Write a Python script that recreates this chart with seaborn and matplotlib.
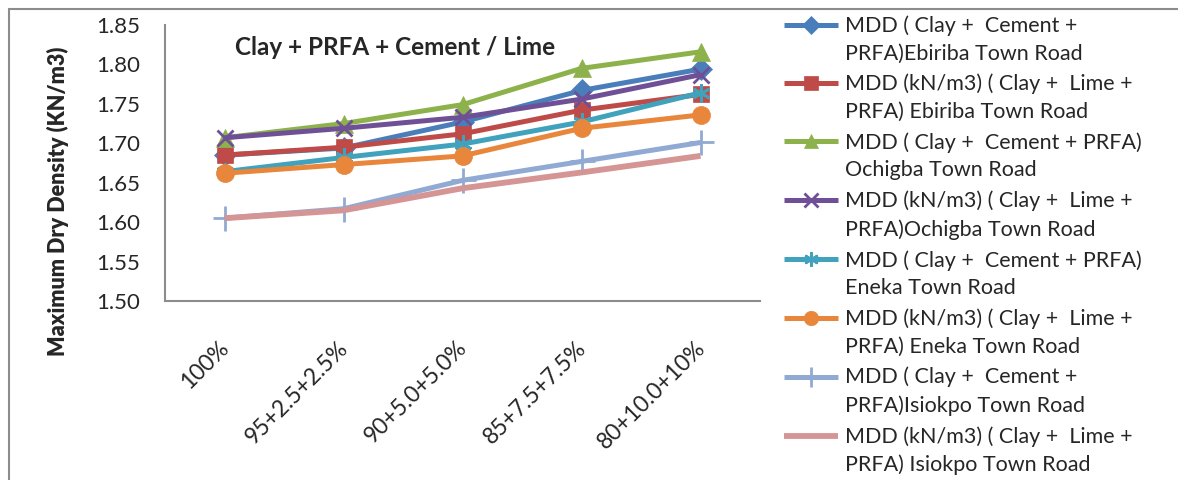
import numpy as np
import pandas as pd
import matplotlib
matplotlib.use("Agg")
import matplotlib.pyplot as plt
import matplotlib.transforms as mtransforms
import seaborn as sns
from matplotlib.lines import Line2D
from matplotlib.legend_handler import HandlerLine2D

# mix proportions (clay + PRFA + binder)
mixes = ["100%", "95+2.5+2.5%", "90+5.0+5.0%", "85+7.5+7.5%", "80+10.0+10%"]

# maximum dry density
ebiriba_cement = [1.685, 1.694, 1.727, 1.767, 1.794]
ebiriba_lime = [1.685, 1.695, 1.712, 1.742, 1.762]
ochigba_cement = [1.707, 1.725, 1.749, 1.795, 1.816]
ochigba_lime = [1.707, 1.719, 1.733, 1.756, 1.787]
eneka_cement = [1.664, 1.682, 1.699, 1.727, 1.764]
eneka_lime = [1.662, 1.673, 1.684, 1.719, 1.736]
isiokpo_cement = [1.605, 1.617, 1.653, 1.677, 1.701]
isiokpo_lime = [1.605, 1.615, 1.643, 1.663, 1.684]

labels = [
    "MDD ( Clay +  Cement +\nPRFA)Ebiriba Town Road",
    "MDD (kN/m3) ( Clay +  Lime +\nPRFA) Ebiriba Town Road",
    "MDD ( Clay +  Cement + PRFA)\nOchigba Town Road",
    "MDD (kN/m3) ( Clay +  Lime +\nPRFA)Ochigba Town Road",
    "MDD ( Clay +  Cement + PRFA)\nEneka Town Road",
    "MDD (kN/m3) ( Clay +  Lime +\nPRFA) Eneka Town Road",
    "MDD ( Clay +  Cement +\nPRFA)Isiokpo Town Road",
    "MDD (kN/m3) ( Clay +  Lime +\nPRFA) Isiokpo Town Road",
]
series = [ebiriba_cement, ebiriba_lime, ochigba_cement, ochigba_lime,
          eneka_cement, eneka_lime, isiokpo_cement, isiokpo_lime]

colors = ["#4A7EBB", "#BE4B48", "#8DB24B", "#6F5096",
          "#40A2BD", "#E8863C", "#90AAD4", "#D49594"]
markers = ["D", "s", "^", "x", (6, 2, 0), "o", "+", None]
msizes = [11, 12, 13, 12, 13, 13, 18, 0]
widths = [3.6, 3.6, 3.6, 3.6, 3.6, 3.6, 3.6, 4.2]


class HandlerFirstLine(HandlerLine2D):
    # put the legend line next to the first line of a two-line label
    def __init__(self, shift, **kw):
        super().__init__(**kw)
        self.shift = shift

    def create_artists(self, legend, orig_handle, xdescent, ydescent, width, height, fontsize, trans):
        artists = super().create_artists(legend, orig_handle, xdescent, ydescent,
                                         width, height, fontsize, trans)
        for a in artists:
            a.set_ydata(np.asarray(a.get_ydata()) + self.shift)
        return artists


sns.set_style("white")
plt.rcParams["font.family"] = ["Lato", "DejaVu Sans"]

fig = plt.figure(figsize=(11.78, 4.8), dpi=100)
ax = fig.add_axes([165 / 1178, 1 - 301 / 480, (760 - 165) / 1178, (301 - 25) / 480])

# outer chart frame (top + left only visible)
fig.add_artist(Line2D([9 / 1178, 1], [1 - 9 / 480, 1 - 9 / 480], color="#8c8c8c", lw=1.5,
                      transform=fig.transFigure))
fig.add_artist(Line2D([9 / 1178, 9 / 1178], [0, 1 - 9 / 480], color="#8c8c8c", lw=1.5,
                      transform=fig.transFigure))

xpos = np.arange(len(mixes))
for vals, lab, col, mk, ms, lw in zip(series, labels, colors, markers, msizes, widths):
    df = pd.DataFrame({"x": xpos, "mdd": vals})
    sns.lineplot(data=df, x="x", y="mdd", ax=ax, color=col, lw=lw,
                 marker=mk, markersize=ms, markeredgewidth=2 if mk in ("x", "+", (6, 2, 0)) else 0.5,
                 markeredgecolor=col, label=lab, solid_capstyle="butt")

ax.set_xlim(-0.5, 4.5)
ax.set_ylim(1.50, 1.85)
ax.set_yticks(np.arange(1.50, 1.851, 0.05))
ax.set_yticklabels([f"{v:.2f}" for v in np.arange(1.50, 1.851, 0.05)], fontsize=16)
ax.set_xticks(xpos)
ax.set_xticklabels(mixes, fontsize=16.5, rotation=45, ha="right", rotation_mode="anchor")
ax.tick_params(axis="y", length=0, pad=18)
ax.tick_params(axis="x", length=0, pad=26)
shift = mtransforms.ScaledTranslation(-6 / 100, 0, fig.dpi_scale_trans)
for t in ax.get_xticklabels():
    t.set_transform(t.get_transform() + shift)
ax.set_xlabel("")
ax.set_ylabel("Maximum Dry Density (KN/m3)", fontsize=15.5, fontweight="heavy")
ax.yaxis.set_label_coords(-0.162, 0.36)

for side in ["top", "right"]:
    ax.spines[side].set_visible(False)
for side in ["left", "bottom"]:
    ax.spines[side].set_color("#8c8c8c")
    ax.spines[side].set_linewidth(1.5)

ax.text(0.387, 0.917, "Clay + PRFA + Cement / Lime", transform=ax.transAxes,
        ha="center", va="center", fontsize=17.5, fontweight="bold")

leg = ax.legend(loc="upper left", bbox_to_anchor=(780 / 1178, 1 - 11 / 480),
                bbox_transform=fig.transFigure, frameon=False, fontsize=15.5,
                handlelength=2.5, handletextpad=0.3, labelspacing=0.48,
                borderaxespad=0, borderpad=0.2, markerscale=0.8,
                handler_map={Line2D: HandlerFirstLine(11)})
for t in leg.get_texts():
    t.set_linespacing(1.47)

fig.savefig("out.png", dpi=100)
